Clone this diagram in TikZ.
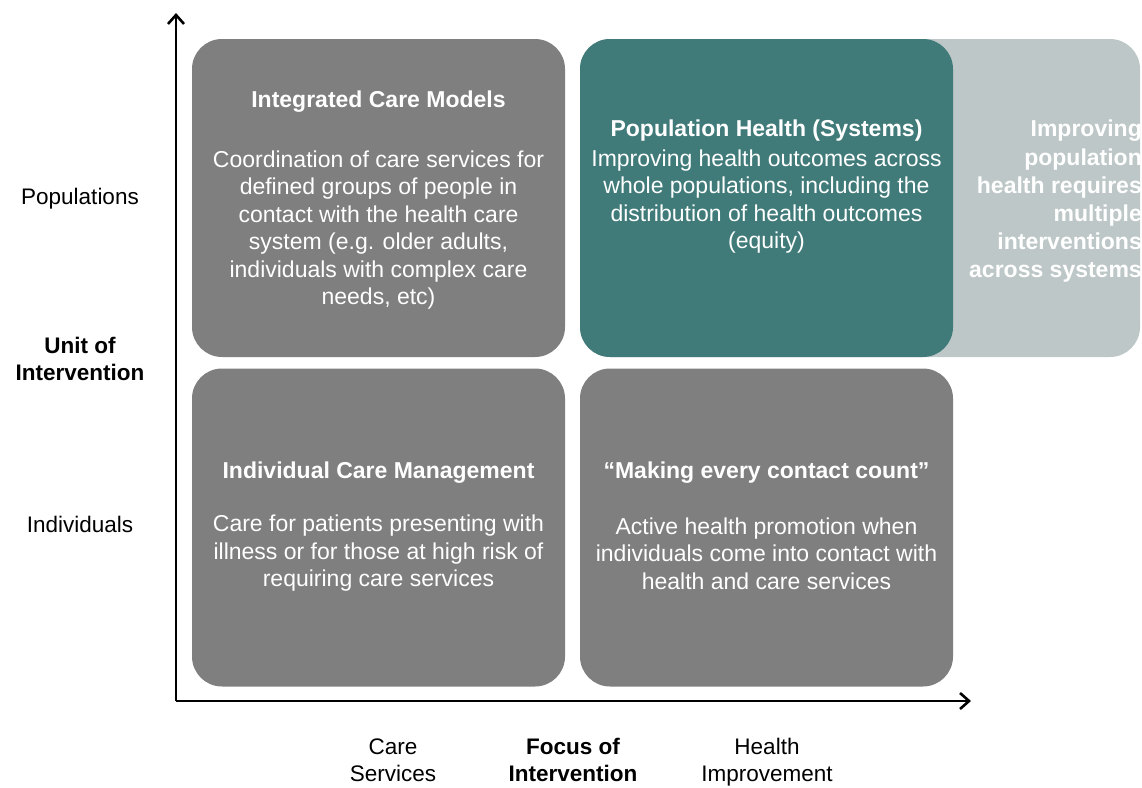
\documentclass[tikz,border=0pt]{standalone}
\usepackage{fontspec}
\setmainfont{Liberation Sans}
\usetikzlibrary{arrows.meta}
\definecolor{boxgray}{HTML}{7F7F7F}
\definecolor{tealbox}{HTML}{407B7A}
\definecolor{lightbox}{HTML}{BDC7C7}
\begin{document}
\begin{tikzpicture}[x=1pt,y=-1pt,
  cell/.style={rounded corners=30pt, inner sep=0pt, minimum width=373pt, minimum height=318pt},
  ttl/.style={text=white, font=\fontsize{23}{27.5}\selectfont\bfseries, align=center, inner sep=0pt},
  body/.style={text=white, font=\fontsize{23}{27.5}\selectfont, align=center, inner sep=0pt},
  lab/.style={text=black, font=\fontsize{22.5}{27}\selectfont, align=center, inner sep=0pt},
  blab/.style={text=black, font=\fontsize{22.5}{27}\selectfont\bfseries, align=center, inner sep=0pt},
  axis/.style={line width=2.6pt, -{Straight Barb[length=9pt, width=16pt, line width=2.6pt]}}]
\useasboundingbox (0,0) rectangle (1142,787);
% light background box
\node[fill=lightbox, rounded corners=30pt, inner sep=0pt, minimum width=560pt, minimum height=318pt] (extra) at (860,198) {};
% cells
\node[cell, fill=boxgray] (icm) at (378.5,198) {};
\node[cell, fill=tealbox] (ph) at (766.5,198) {};
\node[cell, fill=boxgray] (ind) at (378.5,527.5) {};
\node[cell, fill=boxgray] (mecc) at (766.5,527.5) {};
% texts
\node[ttl] (icmt) at (378.5,102) {Integrated Care Models};
\node[body] (icmb) at (378.5,230) {Coordination of care services for\\defined groups of people in\\contact with the health care\\system (e.g. older adults,\\individuals with complex care\\needs, etc)};
\node[ttl] (pht) at (766.5,130.5) {Population Health (Systems)};
\node[body] (phb) at (766.5,201.5) {Improving health outcomes across\\whole populations, including the\\distribution of health outcomes\\(equity)};
\node[ttl, align=right, anchor=east, font=\fontsize{23}{28.2}\selectfont\bfseries] (ext) at (1142,201.5) {Improving\\population\\health requires\\multiple\\interventions\\across systems};
\node[ttl] (indt) at (378.5,473) {Individual Care Management};
\node[body] (indb) at (378.5,553.5) {Care for patients presenting with\\illness or for those at high risk of\\requiring care services};
\node[ttl] (mecct) at (766.5,473) {“Making every contact count”};
\node[body] (meccb) at (766.5,553.5) {Active health promotion when\\individuals come into contact with\\health and care services};
% axis labels
\node[lab] (pop) at (80,199) {Populations};
\node[blab] (uoi) at (80,358.5) {Unit of\\Intervention};
\node[lab] (indiv) at (80,524) {Individuals};
\node[lab] (cs) at (393,763) {\strut Care\\\strut Services};
\node[blab] (foi) at (573,763) {\strut Focus of\\\strut Intervention};
\node[lab] (hi) at (767,763) {\strut Health\\\strut Improvement};
% axes
\coordinate (o) at (176,701);
\coordinate (yt) at (176,13);
\coordinate (xt) at (971,701);
\draw[axis] (o) -- (yt);
\draw[axis] (o) -- (xt);
\end{tikzpicture}
\end{document}
